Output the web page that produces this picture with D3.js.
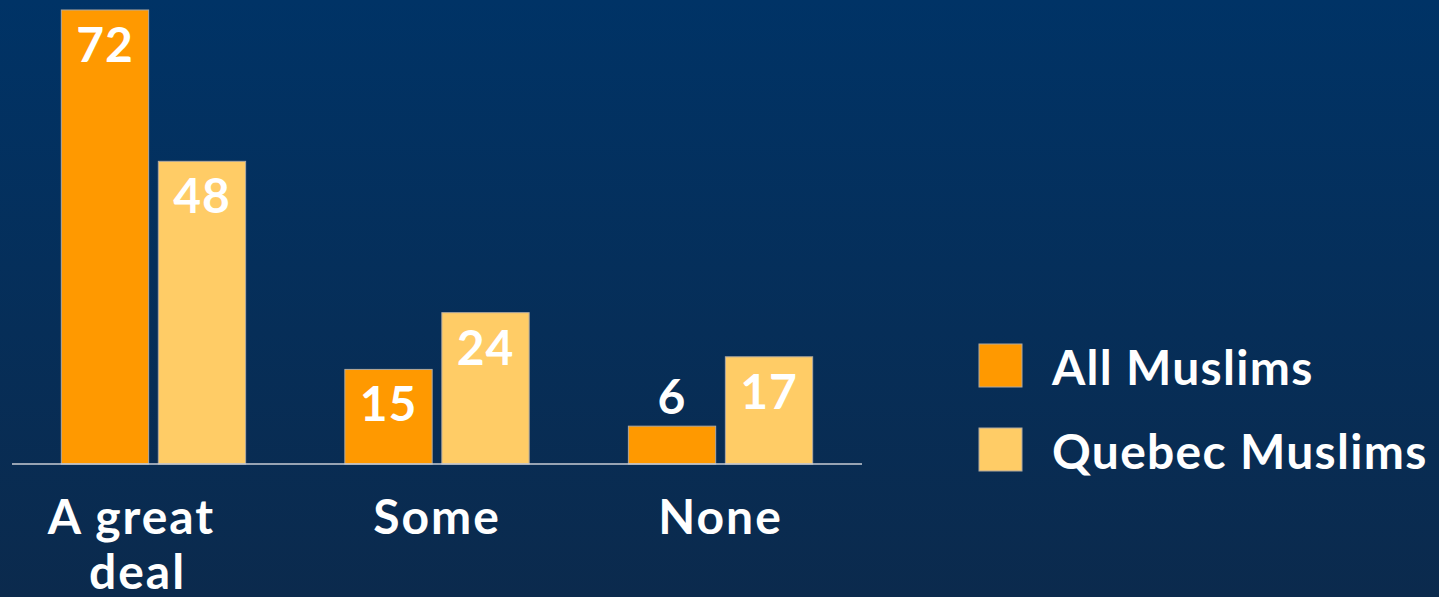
<!DOCTYPE html>
<html>
<head>
<meta charset="utf-8">
<script src="https://cdn.jsdelivr.net/npm/d3@7"></script>
<style>
  html, body { margin: 0; padding: 0; background: #003366; }
  svg { display: block; }
</style>
</head>
<body>
<div id="chart"></div>
<script>
var categories = [["A great", "deal"], ["Some"], ["None"]];
var seriesNames = ["All Muslims", "Quebec Muslims"];
var allMuslims = [72, 15, 6];
var quebecMuslims = [48, 24, 17];

var colors = ["#ff9900", "#ffcc66"];

var svgWidth = 1439, svgHeight = 597;
var svg = d3.select("#chart").append("svg")
    .attr("width", svgWidth)
    .attr("height", svgHeight);

// background gradient
var defs = svg.append("defs");
var grad = defs.append("linearGradient")
    .attr("id", "bg").attr("x1", 0).attr("y1", 0).attr("x2", 0).attr("y2", 1);
grad.append("stop").attr("offset", "0%").attr("stop-color", "#003366");
grad.append("stop").attr("offset", "100%").attr("stop-color", "#0b2a4d");
svg.append("rect").attr("width", svgWidth).attr("height", svgHeight).attr("fill", "url(#bg)");

var margin = { top: 10, left: 12 };
var width = 850, baseY = 464;
var g = svg.append("g").attr("transform", "translate(" + margin.left + "," + margin.top + ")");
var height = baseY - margin.top;

var x = d3.scaleBand().domain(d3.range(categories.length)).range([0, width]).paddingInner(0.35).paddingOuter(0.174);
var xs = d3.scaleBand().domain([0, 1]).range([0, x.bandwidth()]).paddingInner(0.1);
var y = d3.scaleLinear().domain([0, 72]).range([height, 0]);

var data = [];
categories.forEach(function (c, i) {
    data.push({ cat: i, s: 0, v: allMuslims[i] });
    data.push({ cat: i, s: 1, v: quebecMuslims[i] });
});

var font = "Lato, 'Open Sans', sans-serif";

g.selectAll("rect.bar")
    .data(data)
    .enter().append("rect")
    .attr("class", "bar")
    .attr("x", function (d) { return x(d.cat) + xs(d.s); })
    .attr("y", function (d) { return y(d.v); })
    .attr("width", xs.bandwidth())
    .attr("height", function (d) { return height - y(d.v); })
    .attr("fill", function (d) { return colors[d.s]; })
    .attr("stroke", "#b0a9a0")
    .attr("stroke-width", 1);

// value labels
g.selectAll("text.val")
    .data(data)
    .enter().append("text")
    .attr("class", "val")
    .attr("x", function (d) { return x(d.cat) + xs(d.s) + xs.bandwidth() / 2; })
    .attr("y", function (d) {
        var top = y(d.v);
        return (height - top) < 60 ? top - 12 : top + 52;
    })
    .attr("text-anchor", "middle")
    .attr("fill", "#ffffff")
    .attr("font-family", font)
    .attr("font-weight", "bold")
    .attr("font-size", "48px")
    .attr("letter-spacing", "1px")
    .text(function (d) { return d.v; });

// baseline
g.append("line")
    .attr("x1", 0).attr("x2", width)
    .attr("y1", height).attr("y2", height)
    .attr("stroke", "#c8ccd4").attr("stroke-width", 1.5);

// category labels
var cat = g.selectAll("text.cat")
    .data(categories)
    .enter().append("text")
    .attr("class", "cat")
    .attr("text-anchor", "middle")
    .attr("fill", "#ffffff")
    .attr("font-family", font)
    .attr("font-weight", "bold")
    .attr("font-size", "48px")
    .attr("letter-spacing", "2px")
    .attr("transform", function (d, i) { return "translate(" + (x(i) + x.bandwidth() / 2 - (i === 0 ? 22 : 0)) + "," + (height + 70) + ")"; });
cat.selectAll("tspan")
    .data(function (d) { return d; })
    .enter().append("tspan")
    .attr("x", function (d, j) { return j * 6; })
    .attr("dy", function (d, j) { return j === 0 ? 0 : 55; })
    .text(function (d) { return d; });

// legend
var legend = svg.append("g").attr("transform", "translate(979,344)");
var li = legend.selectAll("g")
    .data(seriesNames)
    .enter().append("g")
    .attr("transform", function (d, i) { return "translate(0," + (i * 84) + ")"; });
li.append("rect")
    .attr("width", 43).attr("height", 43)
    .attr("fill", function (d, i) { return colors[i]; })
    .attr("stroke", "#b0a9a0").attr("stroke-width", 1);
li.append("text")
    .attr("x", 73).attr("y", 41)
    .attr("fill", "#ffffff")
    .attr("font-family", font)
    .attr("font-weight", "bold")
    .attr("font-size", "48px")
    .attr("letter-spacing", "1.3px")
    .text(function (d) { return d; });
</script>
</body>
</html>
